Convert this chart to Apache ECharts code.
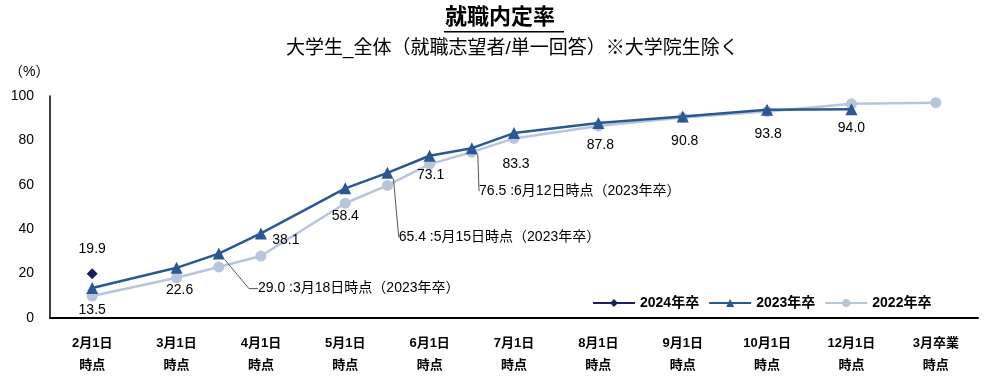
<!DOCTYPE html>
<html>
<head>
<meta charset="utf-8">
<script src="https://cdn.jsdelivr.net/npm/echarts@6/dist/echarts.min.js"></script>
<style>
  html, body { margin: 0; padding: 0; background: #fff; }
  #chart { width: 1000px; height: 376px; }
</style>
</head>
<body>
<div id="chart"></div>
<script>
// x軸ラベル（位置は 1,3,5,... の奇数、途中の調査日は偶数）
const xLabels = ['2月1日\n時点', '3月1日\n時点', '4月1日\n時点', '5月1日\n時点', '6月1日\n時点', '7月1日\n時点',
  '8月1日\n時点', '9月1日\n時点', '10月1日\n時点', '12月1日\n時点', '3月卒業\n時点'];

const pos2024 = [1];
const val2024 = [19.9];

const pos2023 = [1, 3, 4, 5, 7, 8, 9, 10, 11, 13, 15, 17, 19];
const val2023 = [13.5, 22.6, 29.0, 38.1, 58.4, 65.4, 73.1, 76.5, 83.3, 87.8, 90.8, 93.8, 94.0];
const note2023 = ['', '', '3月18日時点（2023年卒）', '', '', '5月15日時点（2023年卒）', '', '6月12日時点（2023年卒）',
  '', '', '', '', ''];

const pos2022 = [1, 3, 4, 5, 7, 8, 9, 10, 11, 13, 15, 17, 19, 21];
const val2022 = [9.9, 18.1, 23.0, 27.9, 51.7, 59.7, 69.3, 74.7, 80.9, 86.5, 90.3, 93.0, 96.5, 97.0];

const yTicks = [0, 20, 40, 60, 80, 100];

// ラベルの移動量（px）と引き出し線の上余白
const labelShift2023 = [[0, 22], [3, 22], [140, 35], [25, 7], [0, 28], [112, 64], [1, 19], [108, 43],
  [2, 31], [2, 22], [2, 25], [1, 24], [0, 19]];
const labelPadTop2023 = [0, 0, 0, 0, 0, 30, 0, 30, 0, 0, 0, 0, 0];

const C2024 = '#1b1f5e';
const C2023 = '#2b5893';
const C2022 = '#b7c6dc';
const FONT = '"Liberation Sans", "Noto Sans CJK JP", sans-serif';

const chart = echarts.init(document.getElementById('chart'));

const data2023 = val2023.map((v, i) => ({
  value: [pos2023[i], v],
  label: {
    formatter: note2023[i] ? v.toFixed(1) + ' :' + note2023[i] : v.toFixed(1),
    padding: [labelPadTop2023[i], 0, 0, 0]
  },
  labelLine: { show: !!note2023[i], length2: labelPadTop2023[i] ? 0 : 9 }
}));

chart.setOption({
  animation: false,
  graphic: [
    { type: 'text', left: 'center', top: 7,
      style: { text: '就職内定率', font: 'bold 22px ' + FONT, fill: '#000' } },
    { type: 'rect', shape: { x: 444, y: 31, width: 120, height: 1.5 }, style: { fill: '#000' } },
    { type: 'text', left: 286, top: 39,
      style: { text: '大学生_全体（就職志望者/単一回答）※大学院生除く', font: '19px ' + FONT, fill: '#000' } },
    { type: 'text', left: 9, top: 65,
      style: { text: '（%）', font: '14px ' + FONT, fill: '#000' } }
  ],
  grid: { left: 50, right: 22, top: 96, bottom: 56 },
  legend: {
    left: 587, top: 291,
    itemWidth: 42, itemHeight: 10, itemGap: 9,
    textStyle: { fontFamily: FONT, fontSize: 14, fontWeight: 'bold', color: '#000' },
    data: ['2024年卒', '2023年卒', '2022年卒']
  },
  xAxis: {
    type: 'value', min: 0, max: 22, interval: 1,
    axisLine: { lineStyle: { color: '#000', width: 2 } },
    axisTick: { show: false },
    splitLine: { show: false },
    axisLabel: {
      margin: 14, lineHeight: 22, color: '#000', fontFamily: FONT, fontSize: 13, fontWeight: 'bold',
      formatter: v => (v % 2 === 1 ? xLabels[(v - 1) / 2] : '')
    }
  },
  yAxis: {
    type: 'value', min: 0, max: 100, interval: 20,
    axisLine: { show: true, lineStyle: { color: '#000', width: 1.5 } },
    axisTick: { show: false },
    splitLine: { show: false },
    axisLabel: { margin: 16, color: '#000', fontFamily: FONT, fontSize: 14,
      formatter: v => (yTicks.includes(v) ? String(v) : '') }
  },
  series: [
    {
      name: '2022年卒', type: 'line', z: 1,
      data: val2022.map((v, i) => [pos2022[i], v]),
      symbol: 'circle', symbolSize: 11,
      lineStyle: { color: C2022, width: 2.5 },
      itemStyle: { color: C2022 }
    },
    {
      name: '2023年卒', type: 'line', z: 2,
      data: data2023,
      symbol: 'triangle', symbolSize: 12,
      lineStyle: { color: C2023, width: 2.5 },
      itemStyle: { color: C2023 },
      label: { show: true, position: 'inside', color: '#000', fontFamily: FONT, fontSize: 14 },
      labelLine: { lineStyle: { color: '#555', width: 1 }, minTurnAngle: 0 },
      labelLayout: p => ({ dx: labelShift2023[p.dataIndex][0], dy: labelShift2023[p.dataIndex][1] })
    },
    {
      name: '2024年卒', type: 'line', z: 3,
      data: val2024.map((v, i) => [pos2024[i], v]),
      symbol: 'diamond', symbolSize: 11,
      lineStyle: { color: C2024, width: 2.5 },
      itemStyle: { color: C2024 },
      label: { show: true, position: 'top', distance: 12, color: '#000', fontFamily: FONT, fontSize: 14,
        formatter: p => p.value[1].toFixed(1) }
    }
  ]
});
</script>
</body>
</html>
